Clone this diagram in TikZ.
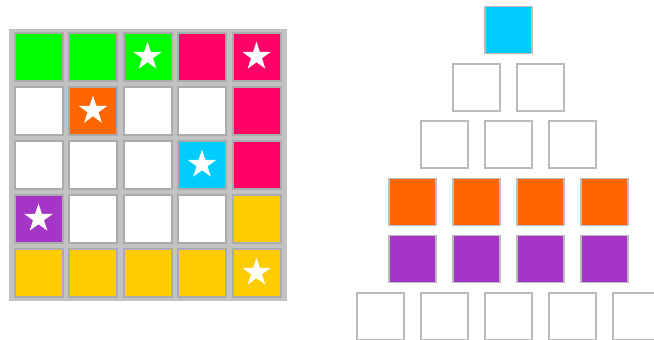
\documentclass[tikz,border=0pt]{standalone}
\usetikzlibrary{shapes.geometric}
\definecolor{cgreen}{HTML}{00FF00}
\definecolor{cpink}{HTML}{FF0066}
\definecolor{corange}{HTML}{FF6600}
\definecolor{ccyan}{HTML}{00CCFF}
\definecolor{cpurple}{HTML}{A535C6}
\definecolor{cyellow}{HTML}{FFCC00}
\definecolor{boardgray}{HTML}{C2C2C2}
\definecolor{ringgray}{HTML}{ABABAB}
\definecolor{edgegray}{HTML}{BBBBBB}
\tikzset{
  board/.style={fill=boardgray, minimum width=278pt, minimum height=272pt, inner sep=0pt},
  cell/.style={draw=ringgray, line width=2pt, minimum size=48pt, inner sep=0pt},
  tile/.style={draw=edgegray, line width=1.5pt, minimum size=47pt, inner sep=0pt},
  starmk/.style={star, star points=5, star point ratio=2.6, fill=white,
                 minimum size=30pt, inner sep=0pt},
}

\begin{document}
\begin{tikzpicture}[x=1pt, y=-1pt]
        \useasboundingbox (0,0) rectangle (654,340);
        \clip (0,0) rectangle (654,340);
        % left board
        \node[board] (board) at (148,165) {};
        \foreach \r/\row in {0/{cgreen,cgreen,cgreen,cpink,cpink},
                             1/{white,corange,white,white,cpink},
                             2/{white,white,white,ccyan,cpink},
                             3/{cpurple,white,white,white,cyellow},
                             4/{cyellow,cyellow,cyellow,cyellow,cyellow}}
          \foreach \cl [count=\c from 0] in \row
            \node[cell, fill=\cl] (g-\r-\c) at ({38.5+54.5*\c}, {56.5+54*\r}) {};
        \foreach \r/\c in {0/2, 0/4, 1/1, 2/3, 3/0, 4/4}
          \node[starmk] (s-\r-\c) at (g-\r-\c) {};
        % right pyramid
        \foreach \k/\n/\cl in {0/1/ccyan, 1/2/white, 2/3/white, 3/4/corange, 4/4/cpurple, 5/5/white}
          \foreach \i in {1,...,\n}
            \node[tile, fill=\cl] (p-\k-\i) at ({508.5+64*(\i-(\n+1)/2)}, {30+57.3*\k}) {};
      \end{tikzpicture}
\end{document}
